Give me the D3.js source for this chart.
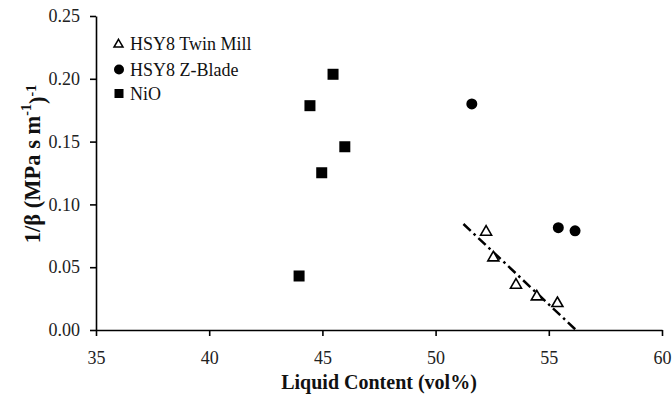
<!DOCTYPE html>
<html><head><meta charset="utf-8">
<script src="https://cdn.jsdelivr.net/npm/d3@7"></script>
<style>body{margin:0;background:#fff}svg{display:block}</style>
</head><body><svg id="c" width="672" height="401"></svg>
<script>
const xTicks = [35, 40, 45, 50, 55, 60];
const yTicks = [0.00, 0.05, 0.10, 0.15, 0.20, 0.25];
const twinX = [52.23, 52.55, 53.55, 54.47, 55.38];
const twinY = [0.078, 0.0576, 0.0358, 0.0265, 0.0212];
const zbladeX = [51.6, 55.42, 56.16];
const zbladeY = [0.180, 0.0815, 0.079];
const nioX = [45.47, 44.45, 45.99, 44.97, 43.97];
const nioY = [0.2036, 0.1786, 0.1459, 0.1252, 0.043];
const fitX = [51.23, 56.2];
const fitY = [0.0844, 0.0];
const legendLabels = ["HSY8 Twin Mill", "HSY8 Z-Blade", "NiO"];

const FF = '"Liberation Serif", "Times New Roman", serif';
const svg = d3.select("#c");
const x = d3.scaleLinear().domain([35, 60]).range([96, 662]);
const y = d3.scaleLinear().domain([0, 0.25]).range([330, 16]);

const xa = svg.append("g").attr("transform","translate(0,330)")
  .call(d3.axisBottom(x).tickValues(xTicks).tickSize(6).tickSizeOuter(0).tickPadding(15).tickFormat(d3.format("d")));
const ya = svg.append("g").attr("transform","translate(96,0)")
  .call(d3.axisLeft(y).tickValues(yTicks).tickSize(6).tickSizeOuter(0).tickPadding(10).tickFormat(d3.format(".2f")));
[xa, ya].forEach(a => {
  a.attr("font-family", null).attr("font-size", null);
  a.selectAll("path,line").attr("stroke","#000").attr("stroke-width",1.6);
  a.selectAll("text").attr("fill","#222").style("font-size","18px").style("font-family", FF);
});

// fit line
svg.append("line")
  .attr("x1", x(fitX[0])).attr("y1", y(fitY[0]))
  .attr("x2", x(fitX[1])).attr("y2", y(fitY[1]))
  .attr("stroke","#000").attr("stroke-width",2.5).attr("stroke-dasharray","10,4,2.5,4");

const tri = (cx, cy, s) => {
  const h = s * Math.sqrt(3) / 2;
  return `M${cx},${cy - h*2/3}L${cx + s/2},${cy + h/3}L${cx - s/2},${cy + h/3}Z`;
};

svg.append("g").selectAll("path").data(d3.range(twinX.length)).join("path")
  .attr("d", i => tri(x(twinX[i]), y(twinY[i]), 11))
  .attr("fill","#fff").attr("stroke","#000").attr("stroke-width",1.6);
svg.append("g").selectAll("circle").data(d3.range(zbladeX.length)).join("circle")
  .attr("cx", i => x(zbladeX[i])).attr("cy", i => y(zbladeY[i])).attr("r", 5.5).attr("fill","#000");
svg.append("g").selectAll("rect").data(d3.range(nioX.length)).join("rect")
  .attr("x", i => x(nioX[i]) - 5.5).attr("y", i => y(nioY[i]) - 5.5)
  .attr("width", 11).attr("height", 11).attr("fill","#000");

// legend
const lg = svg.append("g");
const ly = [44, 69.5, 93.5];
lg.append("path").attr("d", tri(118.5, ly[0] + 0.5, 9)).attr("fill","#fff").attr("stroke","#000").attr("stroke-width",1.5);
lg.append("circle").attr("cx", 119).attr("cy", ly[1]).attr("r", 5).attr("fill","#000");
lg.append("rect").attr("x", 114.5).attr("y", ly[2] - 4.5).attr("width", 9).attr("height", 9).attr("fill","#000");
legendLabels.forEach((t, i) => {
  lg.append("text").attr("x", 130).attr("y", ly[i]).attr("dy","0.35em")
    .style("font-family", FF).style("font-size","18px").attr("fill","#111").text(t);
});

// axis titles
svg.append("text").attr("x", 379).attr("y", 389).attr("text-anchor","middle")
  .style("font-family", FF).style("font-size","20px").style("font-weight","bold").attr("fill","#111").text("Liquid Content (vol%)");

const yl = svg.append("text").attr("transform","translate(39.5,164) rotate(-90)").attr("text-anchor","middle")
  .style("font-family", FF).style("font-size","22.5px").style("font-weight","bold").attr("fill","#111");
yl.append("tspan").text("1/β  (MPa s m");
yl.append("tspan").attr("dy","-0.6em").style("font-size","14px").text("-1");
yl.append("tspan").attr("dy","0.6em").text(")");
yl.append("tspan").attr("dy","-0.6em").style("font-size","14px").text("-1");
</script></body></html>
